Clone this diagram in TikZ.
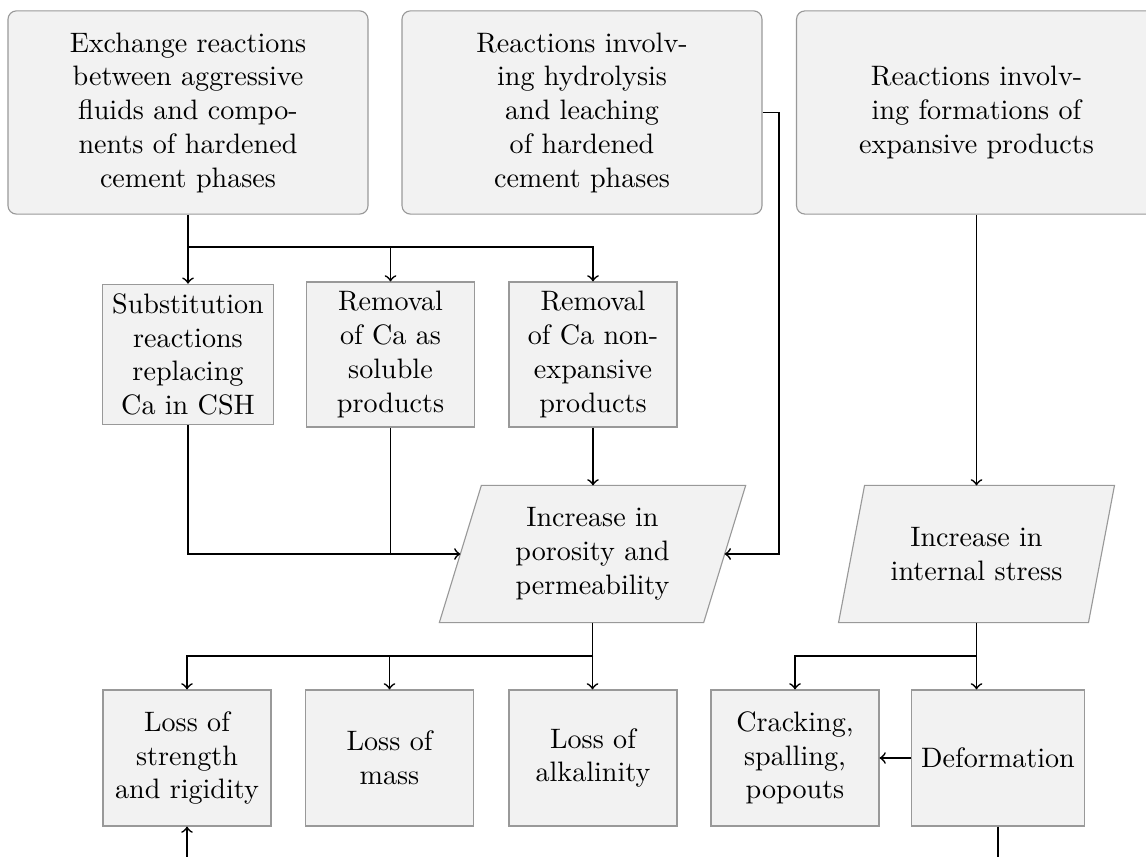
\documentclass[tikz,border=0pt]{standalone}
\usepackage{tikz}
\usetikzlibrary{backgrounds}
\newcommand{\boxfill}{gray!10}
\newcommand{\boxline}{black!40}

\begin{document}
\begin{tikzpicture}[x=0.125mm, y=-0.125mm,
    cause/.style={draw=\boxline, fill=\boxfill, rounded corners=3pt, align=center,
      minimum width=45mm, minimum height=25.4mm},
    effect/.style={draw=\boxline, fill=\boxfill, align=center, minimum width=21mm},
    result/.style={effect, minimum height=17mm},
    slanted/.style={align=center, minimum height=17mm},
    flow/.style={semithick, ->}]

    \useasboundingbox (0, 0) rectangle (1146, 857);
    \clip (0, 0) rectangle (1146, 857);

    \node[cause] (ex) at (188, 112.5) {Exchange reactions\\between aggressive\\fluids and compo-\\nents of hardened\\cement phases};
    \node[cause] (hy) at (582, 112.5) {Reactions involv-\\ing hydrolysis\\and leaching\\of hardened\\cement phases};
    \node[cause] (xp) at (976.5, 112.5) {Reactions involv-\\ing formations of\\expansive products};

    \node[effect] (sub) at (188, 354.5) {Substitution\\reactions\\replacing\\Ca in CSH};
    \node[effect] (rem1) at (390.5, 354.5) {Removal\\of Ca as\\soluble\\products};
    \node[effect] (rem2) at (593, 354.5) {Removal\\of Ca non-\\expansive\\products};

    \node[slanted, minimum width=32.9mm] (por) at (592.5, 554) {Increase in\\porosity and\\permeability};
    \node[slanted, minimum width=31.1mm] (str) at (976.5, 554) {Increase in\\internal stress};

    \node[result] (loss1) at (187, 758) {Loss of\\strength\\and rigidity};
    \node[result] (loss2) at (389.5, 758) {Loss of\\mass};
    \node[result] (loss3) at (593, 758) {Loss of\\alkalinity};
    \node[result] (crk) at (795, 758) {Cracking,\\spalling,\\popouts};
    \node[result] (def) at (998, 758) {Deformation};

    % parallelograms behind the two slanted nodes
    \begin{scope}[on background layer]
      \foreach \n/\s in {por/21, str/13}
        \draw[draw=\boxline, fill=\boxfill]
          ([shift={(\s, 0)}]\n.north west) -- ([shift={(\s, 0)}]\n.north east)
          -- ([shift={(-\s, 0)}]\n.south east) -- ([shift={(-\s, 0)}]\n.south west) -- cycle;
    \end{scope}

    \coordinate (b1) at (188, 247);
    \coordinate (b2) at (593, 656);
    \coordinate (b3) at (976.5, 656);
    \coordinate (hyc) at (779, 112.5);

    \draw[flow] (ex) -- (sub);
    \draw[flow] (b1) -| (rem1);
    \draw[flow] (b1) -| (rem2);

    \draw[flow] (sub) |- (por.west);
    \draw[semithick] (rem1) -- (rem1.south |- por.west);
    \draw[flow] (rem2) -- (rem2.south |- por.north);
    \draw[flow] (hy.east) -- (hyc) |- (por.east);
    \draw[flow] (xp) -- (str);

    \draw[flow] (por.south) -- (por.south |- loss3.north);
    \draw[flow] (b2) -| (loss1);
    \draw[flow] (b2) -| (loss2);

    \draw[flow] (str.south) -- (str.south |- def.north);
    \draw[flow] (b3) -| (crk);
    \draw[flow] (def) -- (crk);
    \draw[flow] (def.south) -- ++(0, 60) -| (loss1.south);

\end{tikzpicture}
\end{document}
